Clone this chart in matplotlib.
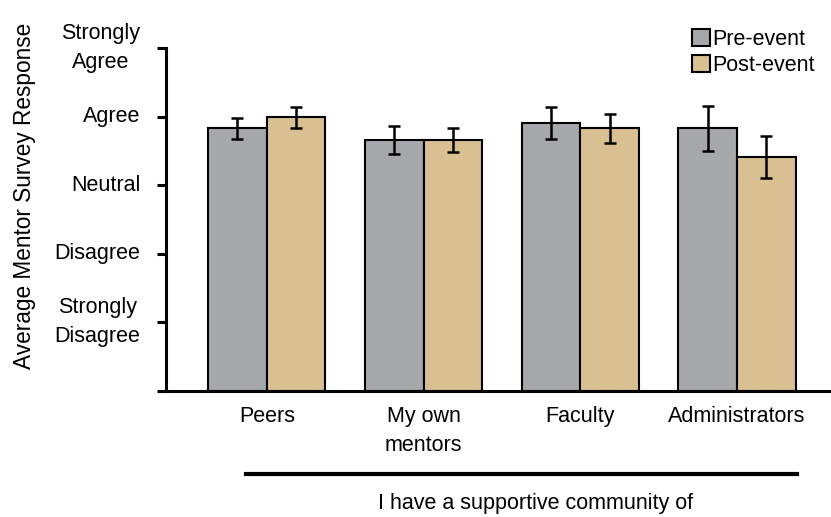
import matplotlib
matplotlib.use("Agg")
import matplotlib.pyplot as plt
import numpy as np
from matplotlib.lines import Line2D

plt.rcParams['font.family'] = ['Liberation Sans', 'DejaVu Sans']

categories = ["Peers", "My own\nmentors", "Faculty", "Administrators"]
pre_values = [3.83, 3.66, 3.91, 3.83]
post_values = [3.99, 3.66, 3.83, 3.41]
pre_err = [0.15, 0.21, 0.235, 0.33]
post_err = [0.15, 0.175, 0.215, 0.31]
y_tick_values = [0, 1, 2, 3, 4, 5]
y_tick_labels = ["", "Strongly\nDisagree", "Disagree", "Neutral", "Agree", "Strongly\nAgree"]
series_labels = ["Pre-event", "Post-event"]
colors = ["#A7A8AC", "#D8C092"]

W, H = 831, 517
FS = 15.5
fig = plt.figure(figsize=(W / 100, H / 100), dpi=100)
ax = fig.add_axes([166 / W, 1 - 391 / H, 1 - 166 / W, (391 - 48) / H])

x = np.arange(len(categories))
bw = 0.374
err_kw = dict(ecolor="black", elinewidth=1.8, capsize=4.5, capthick=1.8)
ax.bar(x - bw / 2, pre_values, bw, yerr=pre_err, color=colors[0], edgecolor="black",
       linewidth=1.5, error_kw=err_kw, label=series_labels[0], zorder=2)
ax.bar(x + bw / 2, post_values, bw, yerr=post_err, color=colors[1], edgecolor="black",
       linewidth=1.5, error_kw=err_kw, label=series_labels[1], zorder=2)

ax.set_xlim(-0.643, 3.60)
ax.set_ylim(0, 5)
ax.set_xticks(x)
ax.set_xticklabels(categories, fontsize=FS, linespacing=1.5)
ax.set_yticks(y_tick_values)
ax.set_yticklabels(y_tick_labels, fontsize=FS, linespacing=1.5)
for t in ax.get_yticklabels():
    t.set_multialignment("center")
    t.set_verticalalignment("center")
ax.tick_params(axis="x", length=0, pad=11)
ax.tick_params(axis="y", length=6.5, width=2.2, direction="out", pad=12)
for s in ["top", "right"]:
    ax.spines[s].set_visible(False)
for s in ["left", "bottom"]:
    ax.spines[s].set_linewidth(2.2)

fig.text(25 / W, 1 - 196 / H, "Average Mentor Survey Response", fontsize=16.3,
         rotation=90, ha="center", va="center")

leg = ax.legend(loc="upper left", bbox_to_anchor=(692 / W, 1 - 29 / H),
                bbox_transform=fig.transFigure, frameon=False, fontsize=FS,
                handlelength=0.84, handleheight=0.84, handletextpad=0.12,
                labelspacing=0.22, borderpad=0, borderaxespad=0)

fig.add_artist(Line2D([246 / W, 797 / W], [1 - 474 / H, 1 - 474 / H],
                      transform=fig.transFigure, color="black", linewidth=3))
fig.text(536 / W, 1 - 503 / H, "I have a supportive community of", fontsize=FS,
         ha="center", va="center")

fig.savefig("out.png", dpi=100)
